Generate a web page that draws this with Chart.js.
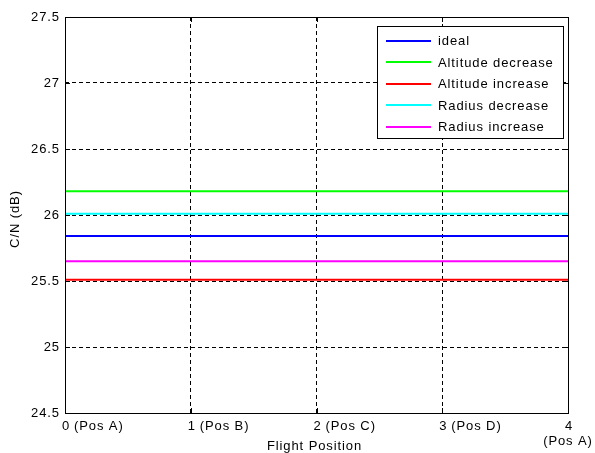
<!DOCTYPE html>
<html>
<head>
<meta charset="utf-8">
<style>
  html, body { margin: 0; padding: 0; background: #ffffff; }
  #wrap { width: 595px; height: 453px; position: relative; }
</style>
<script src="https://cdn.jsdelivr.net/npm/chart.js@4.4.1/dist/chart.umd.min.js"></script>
</head>
<body>
<div id="wrap"><canvas id="chart" width="595" height="453"></canvas></div>
<script>
// Flight positions along the orbit and their names
const positions = [0, 1, 2, 3, 4];
const positionNames = ['Pos A', 'Pos B', 'Pos C', 'Pos D', 'Pos A'];

// C/N axis range and ticks (dB)
const yMin = 24.5;
const yMax = 27.5;
const yStep = 0.5;

// Series names, colours and C/N values (dB) at each flight position
const seriesNames = ['ideal', 'Altitude decrease', 'Altitude increase', 'Radius decrease', 'Radius increase'];
const seriesColors = ['#0000ff', '#00ff00', '#ff0000', '#00ffff', '#ff00ff'];
const ideal            = [25.84, 25.84, 25.84, 25.84, 25.84];
const altitudeDecrease = [26.18, 26.18, 26.18, 26.18, 26.18];
const altitudeIncrease = [25.51, 25.51, 25.51, 25.51, 25.51];
const radiusDecrease   = [26.01, 26.01, 26.01, 26.01, 26.01];
const radiusIncrease   = [25.65, 25.65, 25.65, 25.65, 25.65];
const seriesValues = [ideal, altitudeDecrease, altitudeIncrease, radiusDecrease, radiusIncrease];

const xTitle = 'Flight Position';
const yTitle = 'C/N (dB)';

const FONT = '13px "Liberation Sans", Arial, sans-serif';
const SPACING = '0.9px';

const datasets = seriesNames.map((name, i) => ({
  label: name,
  data: positions.map((x, j) => ({ x: x, y: seriesValues[i][j] })),
  borderColor: seriesColors[i],
  backgroundColor: seriesColors[i],
  borderWidth: 2,
  pointRadius: 0,
  fill: false,
  tension: 0
}));

// Axis box, inward tick marks, tick labels, titles and legend
const figurePlugin = {
  id: 'figure',
  beforeDraw(chart) {
    chart.ctx.letterSpacing = SPACING;
  },
  afterDraw(chart) {
    const ctx = chart.ctx;
    const a = chart.chartArea;
    const xs = chart.scales.x;
    const ys = chart.scales.y;
    ctx.save();
    ctx.letterSpacing = SPACING;

    // solid axis box
    ctx.strokeStyle = '#000';
    ctx.lineWidth = 1;
    ctx.setLineDash([]);
    ctx.strokeRect(a.left + 0.5, a.top + 0.5, a.right - a.left, a.bottom - a.top);

    // inward tick marks on all four sides
    const tl = 5;
    ctx.beginPath();
    positions.forEach(p => {
      const px = Math.round(xs.getPixelForValue(p)) + 0.5;
      ctx.moveTo(px, a.bottom); ctx.lineTo(px, a.bottom - tl);
      ctx.moveTo(px, a.top); ctx.lineTo(px, a.top + tl);
    });
    ys.ticks.forEach(t => {
      const py = Math.round(ys.getPixelForValue(t.value)) + 0.5;
      ctx.moveTo(a.left, py); ctx.lineTo(a.left + tl, py);
      ctx.moveTo(a.right, py); ctx.lineTo(a.right - tl, py);
    });
    ctx.stroke();

    // x tick labels: number at the tick, position name beside it (last one below)
    ctx.fillStyle = '#000';
    ctx.font = FONT;
    ctx.textBaseline = 'middle';
    const labelY = a.bottom + 13;
    positions.forEach((p, i) => {
      const px = xs.getPixelForValue(p);
      const last = i === positions.length - 1;
      ctx.textAlign = 'center';
      ctx.fillText(String(p), px + 1, labelY);
      if (last) {
        ctx.fillText('(' + positionNames[i] + ')', px, labelY + 15);
      } else {
        ctx.textAlign = 'left';
        ctx.fillText('(' + positionNames[i] + ')', px + 9, labelY);
      }
    });

    // axis titles
    ctx.textAlign = 'center';
    ctx.fillText(xTitle, (a.left + a.right) / 2 - 2, a.bottom + 33);
    ctx.save();
    ctx.translate(15, (a.top + a.bottom) / 2 + 4);
    ctx.rotate(-Math.PI / 2);
    ctx.fillText(yTitle, 0, 0);
    ctx.restore();

    // legend box in the upper right corner of the axes
    const lw = 186, lh = 112;
    const lx = a.right - 5 - lw;
    const ly = a.top + 9;
    ctx.fillStyle = '#fff';
    ctx.fillRect(lx, ly, lw, lh);
    ctx.strokeStyle = '#000';
    ctx.lineWidth = 1;
    ctx.strokeRect(lx + 0.5, ly + 0.5, lw, lh);
    ctx.textAlign = 'left';
    seriesNames.forEach((name, i) => {
      const ry = ly + 14.5 + i * 21.6;
      ctx.strokeStyle = seriesColors[i];
      ctx.lineWidth = 2;
      ctx.beginPath();
      ctx.moveTo(lx + 9, Math.round(ry));
      ctx.lineTo(lx + 54, Math.round(ry));
      ctx.stroke();
      ctx.fillStyle = '#000';
      ctx.fillText(name, lx + 61, ry + 1);
    });
    ctx.restore();
  }
};

new Chart(document.getElementById('chart'), {
  type: 'line',
  data: { datasets: datasets },
  plugins: [figurePlugin],
  options: {
    responsive: false,
    devicePixelRatio: 1,
    animation: false,
    events: [],
    layout: { padding: { left: 0, right: 27, top: 17, bottom: 0 } },
    plugins: { legend: { display: false }, tooltip: { enabled: false }, title: { display: false } },
    scales: {
      x: {
        type: 'linear',
        min: positions[0],
        max: positions[positions.length - 1],
        ticks: { display: false, stepSize: 1 },
        grid: { color: '#000', lineWidth: 1, drawTicks: false },
        border: { display: false, dash: [4, 3] },
        afterFit(scale) { scale.height = 40; }
      },
      y: {
        type: 'linear',
        min: yMin,
        max: yMax,
        ticks: {
          stepSize: yStep,
          padding: 5,
          color: '#000',
          font: { family: '"Liberation Sans", Arial, sans-serif', size: 13 },
          callback: v => String(v)
        },
        grid: { color: '#000', lineWidth: 1, drawTicks: false },
        border: { display: false, dash: [4, 3] },
        afterFit(scale) { scale.width = 65; }
      }
    }
  }
});
</script>
</body>
</html>
